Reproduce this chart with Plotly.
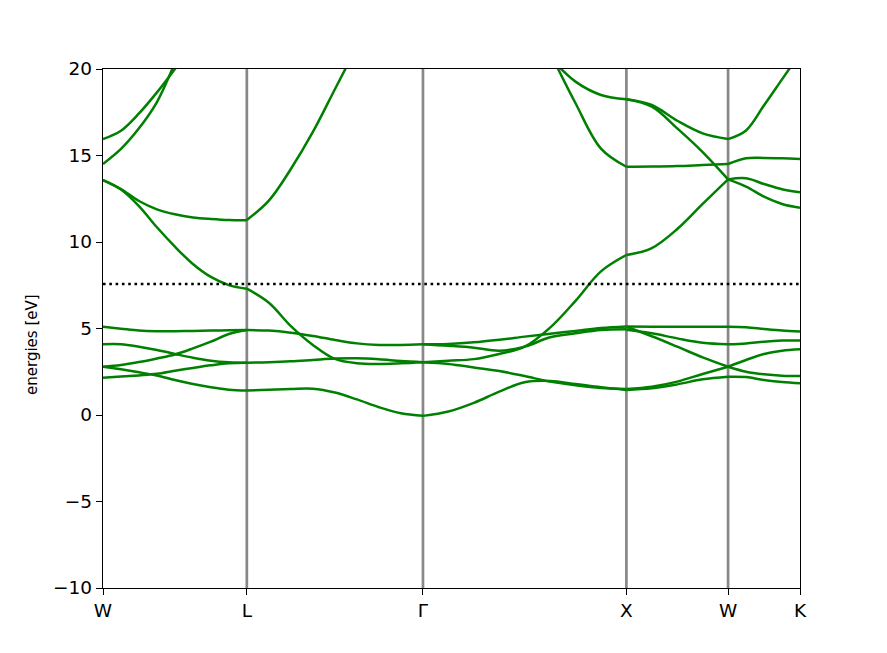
import plotly.graph_objects as go

# ---------------- data ----------------
node_labels = ["W", "L", "Γ", "X", "W", "K"]
segment_lengths = [0.7071, 0.8660, 1.0, 0.5, 0.3536]   # path length of each segment
fermi_energy = 7.57
y_ticks = [-10, -5, 0, 5, 10, 15, 20]
y_label = "energies [eV]"

# fractional positions inside a segment where energies were read
t9 = [0, 0.125, 0.25, 0.375, 0.5, 0.625, 0.75, 0.875, 1.0]
t5 = [0, 0.25, 0.5, 0.75, 1.0]

bands_W_L = [
    [15.95, 16.43, 17.43, 18.65, 20.0, 21.4, None, None, None],
    [14.51, 15.38, 16.57, 18.09, 20.35, 22.8, None, None, None],
    [13.58, 13.06, 12.37, 11.89, 11.60, 11.42, 11.33, 11.27, 11.26],
    [13.58, 13.04, 12.08, 10.85, 9.73, 8.73, 7.98, 7.51, 7.30],
    [5.10, 4.99, 4.88, 4.84, 4.84, 4.86, 4.88, 4.90, 4.91],
    [4.09, 4.09, 3.95, 3.76, 3.53, 3.31, 3.14, 3.05, 3.02],
    [2.79, 2.89, 3.06, 3.27, 3.50, 3.85, 4.24, 4.68, 4.91],
    [2.79, 2.64, 2.47, 2.28, 2.02, 1.79, 1.60, 1.46, 1.41],
    [2.16, 2.22, 2.29, 2.38, 2.56, 2.72, 2.87, 2.99, 3.02],
]

bands_L_G = [
    [11.27, 12.39, 14.22, 16.36, 18.83, 21.3, None, None, None],
    [7.30, 6.49, 5.14, 4.05, 3.24, 2.99, 2.95, 2.99, 3.05],
    [3.02, 3.05, 3.10, 3.18, 3.26, 3.28, 3.22, 3.12, 3.05],
    [4.91, 4.88, 4.76, 4.57, 4.34, 4.14, 4.05, 4.05, 4.09],
    [1.41, 1.46, 1.50, 1.52, 1.30, 0.90, 0.45, 0.10, -0.05],
]

bands_G_X = [
    [None, None, None, None, None, 20.94, 18.02, 15.40, 14.35],
    [None, None, None, None, None, 20.66, 19.27, 18.50, 18.25],
    [3.05, 3.14, 3.23, 3.53, 3.95, 5.05, 6.60, 8.30, 9.25],
    [4.09, 4.11, 4.20, 4.35, 4.53, 4.70, 4.86, 5.03, 5.12],
    [4.09, 4.00, 3.89, 3.72, 3.95, 4.49, 4.72, 4.91, 4.95],
    [3.05, 2.95, 2.75, 2.54, 2.25, 1.93, 1.72, 1.56, 1.50],
    [-0.05, 0.20, 0.70, 1.35, 1.89, 1.97, 1.79, 1.60, 1.45],
]

bands_X_W = [
    [18.25, 17.92, 17.01, 16.28, 15.95],
    [18.25, 17.82, 16.57, 15.20, 13.62],
    [14.35, 14.36, 14.39, 14.45, 14.51],
    [9.25, 9.65, 10.75, 12.20, 13.62],
    [5.12, 5.10, 5.10, 5.10, 5.10],
    [4.93, 4.72, 4.43, 4.18, 4.09],
    [5.10, 4.55, 3.95, 3.33, 2.79],
    [1.50, 1.64, 1.93, 2.37, 2.79],
    [1.45, 1.54, 1.77, 2.06, 2.21],
]

bands_W_K = [
    [15.95, 16.45, 17.90, 19.40, 20.9],
    [14.51, 14.84, 14.86, 14.84, 14.80],
    [13.62, 13.68, 13.35, 13.05, 12.87],
    [13.62, 13.20, 12.62, 12.20, 11.98],
    [5.10, 5.07, 4.97, 4.88, 4.82],
    [4.09, 4.14, 4.24, 4.30, 4.31],
    [2.79, 2.50, 2.35, 2.27, 2.25],
    [2.79, 3.18, 3.53, 3.72, 3.80],
    [2.21, 2.19, 2.02, 1.91, 1.83],
]

segments = [
    (t9, bands_W_L),
    (t9, bands_L_G),
    (t9, bands_G_X),
    (t5, bands_X_W),
    (t5, bands_W_K),
]

# ---------------- figure ----------------
node_k = [0.0]
for L in segment_lengths:
    node_k.append(node_k[-1] + L)
k_end = node_k[-1]

fig = go.Figure()

# vertical high-symmetry lines
for k in node_k[1:-1]:
    fig.add_trace(go.Scatter(x=[k, k], y=[-10, 20], mode="lines",
                             line=dict(color="#888888", width=2.7),
                             hoverinfo="skip", showlegend=False))

# bands
for i, (ts, bands) in enumerate(segments):
    k0 = node_k[i]
    L = segment_lengths[i]
    ks = [k0 + t * L for t in ts]
    for b in bands:
        fig.add_trace(go.Scatter(x=ks, y=b, mode="lines",
                                 line=dict(color="#008000", width=2.5, shape="spline", smoothing=1.0),
                                 connectgaps=False, showlegend=False))

# Fermi level
fig.add_trace(go.Scatter(x=[0, k_end], y=[fermi_energy, fermi_energy], mode="lines",
                         line=dict(color="black", width=2.6, dash="2.6px,3.7px"),
                         showlegend=False))

font_family = "DejaVu Sans"
axis_common = dict(showline=True, mirror=True, linecolor="black", linewidth=1.4,
                   ticks="outside", ticklen=6, tickwidth=1.4, tickcolor="black",
                   showgrid=False, zeroline=False,
                   tickfont=dict(family=font_family, size=18.5, color="black"))

fig.update_layout(
    width=887, height=653,
    margin=dict(l=95, r=95, t=61, b=73),
    paper_bgcolor="white", plot_bgcolor="white",
    showlegend=False,
    xaxis=dict(range=[0, k_end], tickvals=node_k, ticktext=node_labels, **axis_common),
    yaxis=dict(range=[-10, 20], tickvals=y_ticks,
               ticktext=[str(v).replace("-", "\u2212") for v in y_ticks],
               **axis_common),
    annotations=[dict(text=y_label, textangle=-90, showarrow=False,
                      xref="paper", yref="paper", x=-0.102, y=0.47,
                      xanchor="center", yanchor="middle",
                      font=dict(family=font_family, size=15, color="black"))],
)

fig.write_html("out.html")
